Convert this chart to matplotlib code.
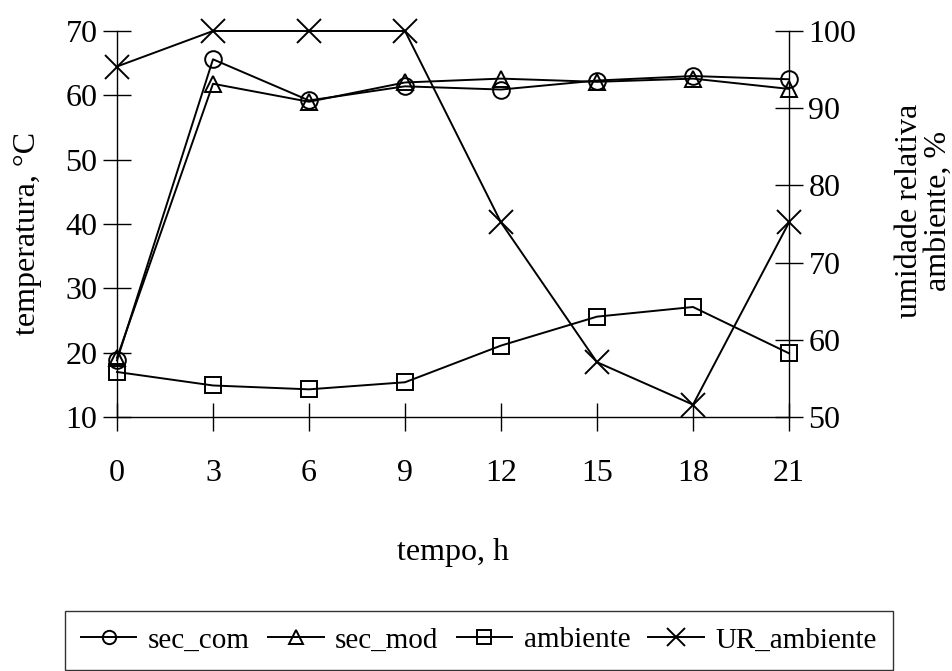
import matplotlib
matplotlib.use("Agg")
import matplotlib.pyplot as plt

plt.rcParams['font.family'] = ['Liberation Serif', 'DejaVu Serif']

tempo = [0, 3, 6, 9, 12, 15, 18, 21]
sec_com = [18.8, 65.6, 59.2, 61.4, 60.9, 62.3, 63.0, 62.5]
sec_mod = [19.2, 61.8, 59.0, 62.0, 62.6, 62.1, 62.6, 61.0]
ambiente = [17.0, 14.9, 14.3, 15.4, 21.1, 25.6, 27.1, 19.9]
ur_ambiente = [95.4, 100, 100, 100, 75.2, 57.1, 51.6, 75.2]

xticks = [0, 3, 6, 9, 12, 15, 18, 21]
yticks_left = [10, 20, 30, 40, 50, 60, 70]
yticks_right = [50, 60, 70, 80, 90, 100]

W, H = 953, 671
fig = plt.figure(figsize=(W / 100, H / 100), dpi=100)
L, R, T, B = 117, 789, 31, 417
ax = fig.add_axes([L / W, 1 - B / H, (R - L) / W, (B - T) / H])
ax2 = ax.twinx()

lw = 1.4
kw = dict(color='black', lw=lw, mfc='none', mec='black', mew=1.4, clip_on=False)
h1, = ax.plot(tempo, sec_com, marker='o', ms=12, label='sec_com', **kw)
h2, = ax.plot(tempo, sec_mod, marker='^', ms=12, label='sec_mod', **kw)
h3, = ax.plot(tempo, ambiente, marker='s', ms=12, label='ambiente', **kw)
h4, = ax2.plot(tempo, ur_ambiente, marker='x', ms=17, label='UR_ambiente', **kw)

ax.set_xlim(0, 21)
ax.set_ylim(10, 70)
ax2.set_ylim(50, 100)
ax.set_xticks(xticks)
ax.set_yticks(yticks_left)
ax2.set_yticks(yticks_right)

for a in (ax, ax2):
    a.spines['top'].set_visible(False)
    for s in a.spines.values():
        s.set_linewidth(1.0)
ax.spines['right'].set_visible(False)
ax2.spines['left'].set_visible(False)
ax2.spines['bottom'].set_visible(False)

fs = 23
ax.tick_params(axis='both', direction='inout', length=20, width=1.0,
               labelsize=fs, pad=4)
ax.tick_params(axis='x', pad=20)
ax2.tick_params(axis='y', direction='inout', length=20, width=1.0,
                labelsize=fs, pad=4)

ax.set_xlabel('tempo, h', fontsize=fs, labelpad=36)
ax.set_ylabel('temperatura, °C', fontsize=fs, rotation=90, ha='center',
              va='center', rotation_mode='anchor')
ax.yaxis.set_label_coords((28 - L) / (R - L), (B - 233) / (B - T))
ax2.set_ylabel('umidade relativa\nambiente, %', fontsize=fs,
               rotation=90, ha='center', va='center', rotation_mode='anchor',
               linespacing=1.0)
ax2.yaxis.set_label_coords((924 - L) / (R - L), (B - 211) / (B - T))

x0, x1 = 65 / W, 893 / W
ytop = 1 - 611 / H
leg = fig.legend(handles=[h1, h2, h3, h4], loc='upper left',
                 bbox_to_anchor=(x0, ytop - 0.2, x1 - x0, 0.2), mode='expand',
                 ncol=4, fontsize=21, frameon=True, fancybox=False,
                 edgecolor='black', handlelength=1.9, handletextpad=0.4,
                 columnspacing=0.5, borderpad=0.55, borderaxespad=0,
                 markerscale=0.8)
leg.get_frame().set_linewidth(1.0)

fig.savefig('out.png', dpi=100)
